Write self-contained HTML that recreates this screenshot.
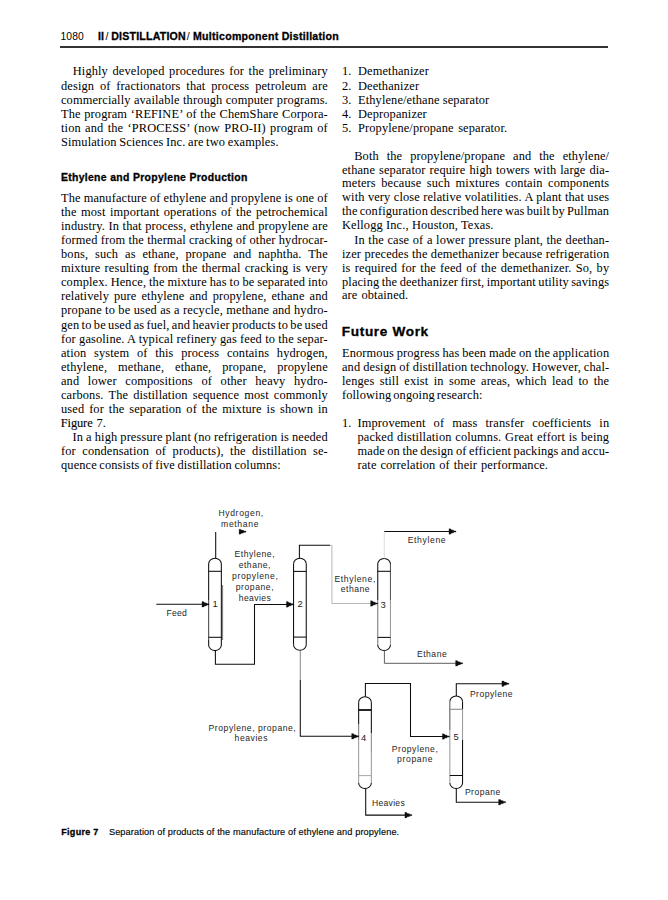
<!DOCTYPE html>
<html><head><meta charset="utf-8"><style>
html,body{margin:0;padding:0;background:#fff;}
body{width:668px;height:900px;position:relative;overflow:hidden;color:#000;}
.l{position:absolute;white-space:pre;font-family:'Liberation Serif', serif;font-size:12.4px;line-height:1.2;letter-spacing:0.12px;}
.h{-webkit-text-stroke:0.3px #000;}
.d{color:#1e1e1e;}
.g{letter-spacing:0;color:#222;}
.fb{-webkit-text-stroke:0.12px #000;letter-spacing:-0.1px;}
.n{-webkit-text-stroke:0.15px #111;}
.rule{position:absolute;left:60px;top:46.2px;width:548px;height:1.7px;background:#333;}
svg{position:absolute;left:0;top:0;}
</style></head><body>
<div class="rule"></div>
<svg width="668" height="900" viewBox="0 0 668 900"><path d="M208.65,563.90 A6.35,5.6 0 0 1 221.35,563.90" fill="none" stroke="#0d0d0d" stroke-width="1.05"/><path d="M221.35,645.00 A6.35,5.6 0 0 1 208.65,645.00" fill="none" stroke="#0d0d0d" stroke-width="1.05"/><path d="M208.65,563.9 L208.65,600" fill="none" stroke="#0d0d0d" stroke-width="1.05"/><path d="M208.65,600 L208.65,640" fill="none" stroke="#444" stroke-width="1.05"/><path d="M208.65,640 L208.65,645" fill="none" stroke="#0d0d0d" stroke-width="1.05"/><path d="M221.35,563.9 L221.35,645" fill="none" stroke="#0d0d0d" stroke-width="1.05"/><path d="M208.65,571.3 L221.35,571.3" fill="none" stroke="#0d0d0d" stroke-width="1.05"/><path d="M208.65,637.3 L221.35,637.3" fill="none" stroke="#0d0d0d" stroke-width="1.05"/><path d="M222.6,585 L222.6,640" fill="none" stroke="#555" stroke-width="0.8"/><path d="M293.55,563.80 A6.35,5.6 0 0 1 306.25,563.80" fill="none" stroke="#0d0d0d" stroke-width="1.05"/><path d="M306.25,644.70 A6.35,5.6 0 0 1 293.55,644.70" fill="none" stroke="#0d0d0d" stroke-width="1.05"/><path d="M293.54999999999995,563.8000000000001 L293.54999999999995,644.6999999999999" fill="none" stroke="#0d0d0d" stroke-width="1.05"/><path d="M306.25,563.8000000000001 L306.25,644.6999999999999" fill="none" stroke="#0d0d0d" stroke-width="1.05"/><path d="M293.54999999999995,571.4 L306.25,571.4" fill="none" stroke="#0d0d0d" stroke-width="1.05"/><path d="M293.54999999999995,637.1 L306.25,637.1" fill="none" stroke="#0d0d0d" stroke-width="1.05"/><path d="M377.75,564.00 A6.35,5.6 0 0 1 390.45,564.00" fill="none" stroke="#0d0d0d" stroke-width="1.05"/><path d="M390.45,644.90 A6.35,5.6 0 0 1 377.75,644.90" fill="none" stroke="#0d0d0d" stroke-width="1.05"/><path d="M377.75,564 L377.75,600" fill="none" stroke="#0d0d0d" stroke-width="1.05"/><path d="M377.75,600 L377.75,645" fill="none" stroke="#777" stroke-width="1.05"/><path d="M390.45000000000005,564 L390.45000000000005,600" fill="none" stroke="#555" stroke-width="1.05"/><path d="M390.45000000000005,600 L390.45000000000005,645" fill="none" stroke="#999" stroke-width="1.05"/><path d="M377.75,571.3 L390.45000000000005,571.3" fill="none" stroke="#0d0d0d" stroke-width="1.05"/><path d="M377.75,637.4 L390.45000000000005,637.4" fill="none" stroke="#0d0d0d" stroke-width="1.05"/><path d="M358.65,702.30 A6.35,5.6 0 0 1 371.35,702.30" fill="none" stroke="#0d0d0d" stroke-width="1.05"/><path d="M371.35,782.90 A6.35,5.6 0 0 1 358.65,782.90" fill="none" stroke="#0d0d0d" stroke-width="1.05"/><path d="M358.65,702.3 L358.65,724" fill="none" stroke="#0d0d0d" stroke-width="1.05"/><path d="M358.65,724 L358.65,740" fill="none" stroke="#777" stroke-width="1.05"/><path d="M358.65,740 L358.65,783" fill="none" stroke="#9a9a9a" stroke-width="1.05"/><path d="M371.35,702.3 L371.35,733" fill="none" stroke="#0d0d0d" stroke-width="1.05"/><path d="M371.35,733 L371.35,752" fill="none" stroke="#888" stroke-width="1.05"/><path d="M371.35,752 L371.35,783" fill="none" stroke="#9a9a9a" stroke-width="1.05"/><path d="M358.65,710.0 L371.35,710.0" fill="none" stroke="#0d0d0d" stroke-width="1.8"/><path d="M358.65,775.6 L371.35,775.6" fill="none" stroke="#aaa" stroke-width="1.05"/><path d="M449.85,701.60 A6.35,5.6 0 0 1 462.55,701.60" fill="none" stroke="#0d0d0d" stroke-width="1.05"/><path d="M462.55,782.90 A6.35,5.6 0 0 1 449.85,782.90" fill="none" stroke="#0d0d0d" stroke-width="1.05"/><path d="M449.84999999999997,701.6 L449.84999999999997,730" fill="none" stroke="#555" stroke-width="1.05"/><path d="M449.84999999999997,730 L449.84999999999997,783" fill="none" stroke="#9a9a9a" stroke-width="1.05"/><path d="M462.55,701.6 L462.55,709" fill="none" stroke="#0d0d0d" stroke-width="1.05"/><path d="M462.55,709 L462.55,740" fill="none" stroke="#9a9a9a" stroke-width="1.05"/><path d="M462.55,740 L462.55,783" fill="none" stroke="#0d0d0d" stroke-width="1.05"/><path d="M449.84999999999997,709.3 L462.55,709.3" fill="none" stroke="#888" stroke-width="1.05"/><path d="M449.84999999999997,775.5 L462.55,775.5" fill="none" stroke="#0d0d0d" stroke-width="1.05"/><path d="M215.7,558.3 L215.7,531.9" fill="none" stroke="#0d0d0d" stroke-width="1.05"/><path d="M245.90,531.10 L243.90,531.10 L243.50,530.35 L241.50,530.10 L240.70,529.38 L239.10,529.20 L239.10,534.20 L240.70,534.03 L241.50,533.30 L243.50,533.05 L243.90,532.30 L245.90,532.30 Z" fill="#0d0d0d" stroke="#0d0d0d" stroke-width="0.3"/><path d="M156.3,604.3 L203,604.3" fill="none" stroke="#0d0d0d" stroke-width="1.05"/><path d="M209.00,603.70 L207.00,603.70 L206.60,602.95 L204.60,602.70 L203.80,601.70 L202.00,601.50 L202.00,607.10 L203.80,606.90 L204.60,605.90 L206.60,605.65 L207.00,604.90 L209.00,604.90 Z" fill="#0d0d0d" stroke="#0d0d0d" stroke-width="0.3"/><path d="M215.4,650.6 L215.4,664.3 L254.5,664.3 L254.5,604.4 L288,604.4" fill="none" stroke="#0d0d0d" stroke-width="1.05"/><path d="M293.40,603.80 L291.40,603.80 L291.00,603.05 L289.00,602.80 L288.20,601.80 L286.40,601.60 L286.40,607.20 L288.20,607.00 L289.00,606.00 L291.00,605.75 L291.40,605.00 L293.40,605.00 Z" fill="#0d0d0d" stroke="#0d0d0d" stroke-width="0.3"/><path d="M299.4,558.2 L299.4,545.3 L330,545.3" fill="none" stroke="#0d0d0d" stroke-width="1.05"/><path d="M330,545.3 L331.9,545.3 L331.9,603.5 L372,603.5" fill="none" stroke="#b0b0b0" stroke-width="0.9"/><path d="M377.60,602.90 L375.60,602.90 L375.20,602.15 L373.20,601.90 L372.40,600.90 L370.60,600.70 L370.60,606.30 L372.40,606.10 L373.20,605.10 L375.20,604.85 L375.60,604.10 L377.60,604.10 Z" fill="#0d0d0d" stroke="#0d0d0d" stroke-width="0.3"/><path d="M300.3,650.3 L300.3,680" fill="none" stroke="#777" stroke-width="0.9"/><path d="M300.3,680 L300.3,736.3 L353,736.3" fill="none" stroke="#0d0d0d" stroke-width="1.05"/><path d="M358.70,735.70 L356.70,735.70 L356.30,734.95 L354.30,734.70 L353.50,733.70 L351.70,733.50 L351.70,739.10 L353.50,738.90 L354.30,737.90 L356.30,737.65 L356.70,736.90 L358.70,736.90 Z" fill="#0d0d0d" stroke="#0d0d0d" stroke-width="0.3"/><path d="M384.3,558.4 L384.3,531.5" fill="none" stroke="#d8d8d8" stroke-width="0.9"/><path d="M384.3,531.5 L450,531.5" fill="none" stroke="#0d0d0d" stroke-width="1.05"/><path d="M456.00,530.90 L454.00,530.90 L453.60,530.15 L451.60,529.90 L450.80,528.90 L449.00,528.70 L449.00,534.30 L450.80,534.10 L451.60,533.10 L453.60,532.85 L454.00,532.10 L456.00,532.10 Z" fill="#0d0d0d" stroke="#0d0d0d" stroke-width="0.3"/><path d="M384.4,650.5 L384.4,663.3 L458,663.3" fill="none" stroke="#555" stroke-width="0.95"/><path d="M462.60,662.70 L460.60,662.70 L460.20,661.95 L458.20,661.70 L457.40,660.70 L455.60,660.50 L455.60,666.10 L457.40,665.90 L458.20,664.90 L460.20,664.65 L460.60,663.90 L462.60,663.90 Z" fill="#0d0d0d" stroke="#0d0d0d" stroke-width="0.3"/><path d="M365.4,696.7 L365.4,683.5 L410.5,683.5 L410.5,736.5 L443,736.5" fill="none" stroke="#0d0d0d" stroke-width="1.05"/><path d="M449.40,735.90 L447.40,735.90 L447.00,735.15 L445.00,734.90 L444.20,733.90 L442.40,733.70 L442.40,739.30 L444.20,739.10 L445.00,738.10 L447.00,737.85 L447.40,737.10 L449.40,737.10 Z" fill="#0d0d0d" stroke="#0d0d0d" stroke-width="0.3"/><path d="M365.7,788.5 L365.7,815.1 L406,815.1" fill="none" stroke="#0d0d0d" stroke-width="1.05"/><path d="M411.90,814.50 L409.90,814.50 L409.50,813.75 L407.50,813.50 L406.70,812.50 L404.90,812.30 L404.90,817.90 L406.70,817.70 L407.50,816.70 L409.50,816.45 L409.90,815.70 L411.90,815.70 Z" fill="#0d0d0d" stroke="#0d0d0d" stroke-width="0.3"/><path d="M456.3,696.0 L456.3,683.7 L503,683.7" fill="none" stroke="#0d0d0d" stroke-width="1.05"/><path d="M508.90,683.10 L506.90,683.10 L506.50,682.35 L504.50,682.10 L503.70,681.10 L501.90,680.90 L501.90,686.50 L503.70,686.30 L504.50,685.30 L506.50,685.05 L506.90,684.30 L508.90,684.30 Z" fill="#0d0d0d" stroke="#0d0d0d" stroke-width="0.3"/><path d="M456.3,788.5 L456.3,802.2 L500,802.2" fill="none" stroke="#0d0d0d" stroke-width="1.05"/><path d="M505.60,801.60 L503.60,801.60 L503.20,800.85 L501.20,800.60 L500.40,799.60 L498.60,799.40 L498.60,805.00 L500.40,804.80 L501.20,803.80 L503.20,803.55 L503.60,802.80 L505.60,802.80 Z" fill="#0d0d0d" stroke="#0d0d0d" stroke-width="0.3"/></svg>
<div class="l" style="left:72.80px;top:64px;word-spacing:1.356px;">Highly developed procedures for the preliminary</div>
<div class="l" style="left:61.00px;top:79px;word-spacing:2.636px;">design of fractionators that process petroleum are</div>
<div class="l" style="left:61.00px;top:93px;word-spacing:0.114px;">commercially available through computer programs.</div>
<div class="l" style="left:61.00px;top:107px;word-spacing:0.459px;">The program ‘REFINE’ of the ChemShare Corpora-</div>
<div class="l" style="left:61.00px;top:121px;word-spacing:1.123px;">tion and the ‘PROCESS’ (now PRO-II) program of</div>
<div class="l" style="left:61.00px;top:135px;word-spacing:-0.636px;">Simulation Sciences Inc. are two examples.</div>
<div class="l" style="left:61.00px;top:191px;word-spacing:-0.187px;">The manufacture of ethylene and propylene is one of</div>
<div class="l" style="left:61.00px;top:205px;word-spacing:1.258px;">the most important operations of the petrochemical</div>
<div class="l" style="left:61.00px;top:219px;word-spacing:0.308px;">industry. In that process, ethylene and propylene are</div>
<div class="l" style="left:61.00px;top:233px;word-spacing:-0.029px;">formed from the thermal cracking of other hydrocar-</div>
<div class="l" style="left:61.00px;top:247px;word-spacing:3.637px;">bons, such as ethane, propane and naphtha. The</div>
<div class="l" style="left:61.00px;top:261px;word-spacing:1.012px;">mixture resulting from the thermal cracking is very</div>
<div class="l" style="left:61.00px;top:275px;word-spacing:-0.289px;">complex. Hence, the mixture has to be separated into</div>
<div class="l" style="left:61.00px;top:289px;word-spacing:1.779px;">relatively pure ethylene and propylene, ethane and</div>
<div class="l" style="left:61.00px;top:303px;word-spacing:0.141px;">propane to be used as a recycle, methane and hydro-</div>
<div class="l" style="left:61.00px;top:318px;word-spacing:-0.869px;">gen to be used as fuel, and heavier products to be used</div>
<div class="l" style="left:61.00px;top:332px;word-spacing:0.037px;">for gasoline. A typical refinery gas feed to the separ-</div>
<div class="l" style="left:61.00px;top:346px;word-spacing:4.467px;">ation system of this process contains hydrogen,</div>
<div class="l" style="left:61.00px;top:360px;word-spacing:7.723px;">ethylene, methane, ethane, propane, propylene</div>
<div class="l" style="left:61.00px;top:374px;word-spacing:5.391px;">and lower compositions of other heavy hydro-</div>
<div class="l" style="left:61.00px;top:388px;word-spacing:1.873px;">carbons. The distillation sequence most commonly</div>
<div class="l" style="left:61.00px;top:402px;word-spacing:1.716px;">used for the separation of the mixture is shown in</div>
<div class="l fb" style="left:60.80px;top:416px;font-family:'Liberation Serif', serif;font-size:12.401px;font-weight:normal;">Figure</div>
<div class="l" style="left:96.40px;top:416px;">7.</div>
<div class="l" style="left:72.50px;top:430px;word-spacing:-0.177px;">In a high pressure plant (no refrigeration is needed</div>
<div class="l" style="left:61.00px;top:444px;word-spacing:3.243px;">for condensation of products), the distillation se-</div>
<div class="l" style="left:61.00px;top:458px;word-spacing:-0.687px;">quence consists of five distillation columns:</div>
<div class="l" style="left:342.00px;top:64px;">1.</div>
<div class="l" style="left:358.00px;top:64px;">Demethanizer</div>
<div class="l" style="left:342.00px;top:79px;">2.</div>
<div class="l" style="left:358.00px;top:79px;">Deethanizer</div>
<div class="l" style="left:342.00px;top:93px;">3.</div>
<div class="l" style="left:358.00px;top:93px;word-spacing:-0.028px;">Ethylene/ethane separator</div>
<div class="l" style="left:342.00px;top:107px;">4.</div>
<div class="l" style="left:358.00px;top:107px;">Depropanizer</div>
<div class="l" style="left:342.00px;top:121px;">5.</div>
<div class="l" style="left:358.00px;top:121px;word-spacing:1.325px;">Propylene/propane separator.</div>
<div class="l" style="left:354.20px;top:149px;word-spacing:4.731px;">Both the propylene/propane and the ethylene/</div>
<div class="l" style="left:342.00px;top:163px;word-spacing:0.794px;">ethane separator require high towers with large dia-</div>
<div class="l" style="left:342.00px;top:176px;word-spacing:2.281px;">meters because such mixtures contain components</div>
<div class="l" style="left:342.00px;top:190px;word-spacing:0.170px;">with very close relative volatilities. A plant that uses</div>
<div class="l" style="left:342.00px;top:204px;word-spacing:-1.032px;">the configuration described here was built by Pullman</div>
<div class="l" style="left:342.00px;top:218px;word-spacing:0.065px;">Kellogg Inc., Houston, Texas.</div>
<div class="l" style="left:354.20px;top:233px;word-spacing:0.359px;">In the case of a lower pressure plant, the deethan-</div>
<div class="l" style="left:342.00px;top:247px;word-spacing:0.112px;">izer precedes the demethanizer because refrigeration</div>
<div class="l" style="left:342.00px;top:261px;word-spacing:1.050px;">is required for the feed of the demethanizer. So, by</div>
<div class="l" style="left:342.00px;top:275px;word-spacing:-0.805px;">placing the deethanizer first, important utility savings</div>
<div class="l" style="left:342.00px;top:288px;word-spacing:0.753px;">are obtained.</div>
<div class="l" style="left:342.00px;top:346px;word-spacing:-0.389px;">Enormous progress has been made on the application</div>
<div class="l" style="left:342.00px;top:360px;word-spacing:-0.240px;">and design of distillation technology. However, chal-</div>
<div class="l" style="left:342.00px;top:374px;word-spacing:2.168px;">lenges still exist in some areas, which lead to the</div>
<div class="l" style="left:342.00px;top:388px;word-spacing:-1.177px;">following ongoing research:</div>
<div class="l" style="left:342.00px;top:416px;">1.</div>
<div class="l" style="left:357.50px;top:416px;word-spacing:4.806px;">Improvement of mass transfer coefficients in</div>
<div class="l" style="left:357.50px;top:430px;word-spacing:0.554px;">packed distillation columns. Great effort is being</div>
<div class="l" style="left:357.50px;top:444px;word-spacing:-0.741px;">made on the design of efficient packings and accu-</div>
<div class="l" style="left:357.50px;top:458px;word-spacing:0.670px;">rate correlation of their performance.</div>
<div class="l" style="left:60.60px;top:31px;font-family:'Liberation Sans', sans-serif;font-size:10.3px;font-weight:normal;letter-spacing:0.045px;">1080</div>
<div class="l h" style="left:98.00px;top:30px;font-family:'Liberation Sans', sans-serif;font-size:10.6px;font-weight:bold;letter-spacing:0.055px;">II</div>
<div class="l" style="left:105.60px;top:30px;font-family:'Liberation Sans', sans-serif;font-size:10.6px;font-weight:normal;letter-spacing:1.047px;">/</div>
<div class="l h" style="left:111.20px;top:30px;font-family:'Liberation Sans', sans-serif;font-size:10.6px;font-weight:bold;letter-spacing:0.209px;">DISTILLATION</div>
<div class="l" style="left:186.80px;top:30px;font-family:'Liberation Sans', sans-serif;font-size:10.6px;font-weight:normal;letter-spacing:1.247px;">/</div>
<div class="l h" style="left:193.00px;top:30px;font-family:'Liberation Sans', sans-serif;font-size:10.6px;font-weight:bold;letter-spacing:0.263px;">Multicomponent Distillation</div>
<div class="l h" style="left:60.90px;top:172px;font-family:'Liberation Sans', sans-serif;font-size:10.4px;font-weight:bold;letter-spacing:0.342px;">Ethylene and Propylene Production</div>
<div class="l h" style="left:341.80px;top:324px;font-family:'Liberation Sans', sans-serif;font-size:13.6px;font-weight:bold;letter-spacing:0.653px;">Future Work</div>
<div class="l h" style="left:61.30px;top:827px;font-family:'Liberation Sans', sans-serif;font-size:9.0px;font-weight:bold;letter-spacing:0.286px;">Figure 7</div>
<div class="l n" style="left:108.90px;top:827px;font-family:'Liberation Sans', sans-serif;font-size:9.2px;font-weight:normal;letter-spacing:0.117px;">Separation of products of the manufacture of ethylene and propylene.</div>
<div class="l d" style="left:218.40px;top:508px;font-family:'Liberation Sans', sans-serif;font-size:8.6px;font-weight:normal;letter-spacing:0.649px;">Hydrogen,</div>
<div class="l d" style="left:221.10px;top:519px;font-family:'Liberation Sans', sans-serif;font-size:8.6px;font-weight:normal;letter-spacing:0.650px;">methane</div>
<div class="l d" style="left:234.50px;top:549px;font-family:'Liberation Sans', sans-serif;font-size:8.6px;font-weight:normal;letter-spacing:0.528px;">Ethylene,</div>
<div class="l d" style="left:238.70px;top:560px;font-family:'Liberation Sans', sans-serif;font-size:8.6px;font-weight:normal;letter-spacing:0.502px;">ethane,</div>
<div class="l d" style="left:232.00px;top:571px;font-family:'Liberation Sans', sans-serif;font-size:8.6px;font-weight:normal;letter-spacing:0.626px;">propylene,</div>
<div class="l d" style="left:235.70px;top:582px;font-family:'Liberation Sans', sans-serif;font-size:8.6px;font-weight:normal;letter-spacing:0.570px;">propane,</div>
<div class="l d" style="left:238.70px;top:593px;font-family:'Liberation Sans', sans-serif;font-size:8.6px;font-weight:normal;letter-spacing:0.411px;">heavies</div>
<div class="l d" style="left:166.50px;top:608px;font-family:'Liberation Sans', sans-serif;font-size:8.6px;font-weight:normal;letter-spacing:0.252px;">Feed</div>
<div class="l d" style="left:334.50px;top:574px;font-family:'Liberation Sans', sans-serif;font-size:8.6px;font-weight:normal;letter-spacing:0.617px;">Ethylene,</div>
<div class="l d" style="left:340.80px;top:584px;font-family:'Liberation Sans', sans-serif;font-size:8.6px;font-weight:normal;letter-spacing:0.467px;">ethane</div>
<div class="l d" style="left:407.70px;top:535px;font-family:'Liberation Sans', sans-serif;font-size:8.6px;font-weight:normal;letter-spacing:0.643px;">Ethylene</div>
<div class="l d" style="left:417.00px;top:649px;font-family:'Liberation Sans', sans-serif;font-size:8.6px;font-weight:normal;letter-spacing:0.492px;">Ethane</div>
<div class="l d" style="left:208.60px;top:723px;font-family:'Liberation Sans', sans-serif;font-size:8.6px;font-weight:normal;letter-spacing:0.542px;">Propylene, propane,</div>
<div class="l d" style="left:234.60px;top:733px;font-family:'Liberation Sans', sans-serif;font-size:8.6px;font-weight:normal;letter-spacing:0.539px;">heavies</div>
<div class="l d" style="left:391.70px;top:744px;font-family:'Liberation Sans', sans-serif;font-size:8.6px;font-weight:normal;letter-spacing:0.561px;">Propylene,</div>
<div class="l d" style="left:397.00px;top:754px;font-family:'Liberation Sans', sans-serif;font-size:8.6px;font-weight:normal;letter-spacing:0.665px;">propane</div>
<div class="l d" style="left:469.90px;top:689px;font-family:'Liberation Sans', sans-serif;font-size:8.6px;font-weight:normal;letter-spacing:0.500px;">Propylene</div>
<div class="l d" style="left:464.90px;top:787px;font-family:'Liberation Sans', sans-serif;font-size:8.6px;font-weight:normal;letter-spacing:0.471px;">Propane</div>
<div class="l d" style="left:372.00px;top:798px;font-family:'Liberation Sans', sans-serif;font-size:8.6px;font-weight:normal;letter-spacing:0.277px;">Heavies</div>
<div class="l g" style="left:212.60px;top:598px;font-family:'Liberation Sans', sans-serif;font-size:9.4px;font-weight:normal;">1</div>
<div class="l g" style="left:297.60px;top:598px;font-family:'Liberation Sans', sans-serif;font-size:9.4px;font-weight:normal;">2</div>
<div class="l g" style="left:380.60px;top:599px;font-family:'Liberation Sans', sans-serif;font-size:9.4px;font-weight:normal;">3</div>
<div class="l g" style="left:360.90px;top:732px;font-family:'Liberation Sans', sans-serif;font-size:9.4px;font-weight:normal;">4</div>
<div class="l g" style="left:453.60px;top:731px;font-family:'Liberation Sans', sans-serif;font-size:9.4px;font-weight:normal;">5</div>
</body></html>
